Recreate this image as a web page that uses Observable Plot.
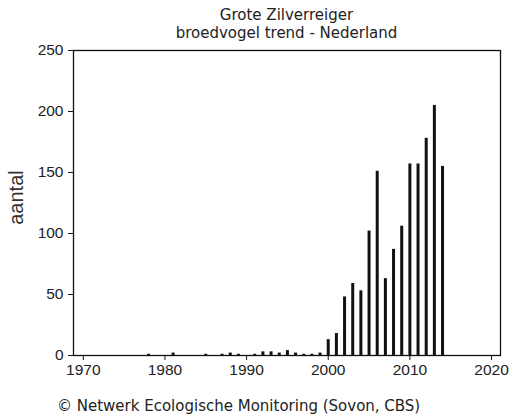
<!DOCTYPE html>
<html>
<head>
<meta charset="utf-8">
<script src="https://cdn.jsdelivr.net/npm/d3@7"></script>
<script src="https://cdn.jsdelivr.net/npm/@observablehq/plot@0.6"></script>
<style>
  body { margin: 0; background: #fff; width: 511px; height: 417px; overflow: hidden; }
  #title { box-sizing: border-box; width: 511px; height: 42px; padding: 6px 11px 0 73px; text-align: center;
    font-family: "DejaVu Sans", sans-serif; font-size: 15px; line-height: 18px; color: #222; }
  #caption { box-sizing: border-box; width: 511px; height: 33px; padding: 13px 0 0 57px;
    font-family: "DejaVu Sans", sans-serif; font-size: 15px; line-height: 18px; color: #222; white-space: nowrap; }
  svg { display: block; }
</style>
</head>
<body>
<div id="title">Grote Zilverreiger<br>broedvogel trend - Nederland</div>
<div id="chart"></div>
<div id="caption">© Netwerk Ecologische Monitoring (Sovon, CBS)</div>
<script>
const years  = [1978, 1981, 1985, 1987, 1988, 1989, 1991, 1992, 1993, 1994, 1995, 1996, 1997, 1998, 1999,
                2000, 2001, 2002, 2003, 2004, 2005, 2006, 2007, 2008, 2009, 2010, 2011, 2012, 2013, 2014];
const counts = [1, 2, 1, 1, 2, 1, 1, 3, 3, 2, 4, 2, 1, 1, 2,
                13, 18, 48, 59, 53, 102, 151, 63, 87, 106, 157, 157, 178, 205, 155];
const xTicks = [1970, 1980, 1990, 2000, 2010, 2020];
const yTicks = [0, 50, 100, 150, 200, 250];
const xDomain = [1968.8, 2021.1];
const yDomain = [0, 250];
const yLabel = "aantal";

const data = years.map((y, i) => ({year: y, count: counts[i]}));

const W = 511, H = 342, mt = 8, mb = 29, ml = 73, mr = 11;
const tickFont = "Liberation Sans, Arial, sans-serif";

const chart = Plot.plot({
  width: W, height: H,
  marginTop: mt, marginBottom: mb, marginLeft: ml, marginRight: mr,
  style: {background: "#fff", color: "#222", fontFamily: tickFont},
  x: {domain: xDomain},
  y: {domain: yDomain},
  marks: [
    Plot.ruleX(data, {x: "year", y: "count", stroke: "#111", strokeWidth: 3}),
    Plot.frame({stroke: "#111", strokeWidth: 1.3}),
    Plot.axisX({ticks: xTicks, tickFormat: d => String(d), tickSize: 5, tickPadding: 3,
                fontSize: 15.5, label: null, stroke: "#111"}),
    Plot.axisY({ticks: yTicks, tickSize: 5, tickPadding: 5, fontSize: 15.5, label: null, stroke: "#111"})
  ]
});

d3.select(chart).append("text")
  .attr("transform", `translate(23, ${197.5 - 42}) rotate(-90)`)
  .attr("text-anchor", "middle")
  .attr("font-family", tickFont)
  .attr("font-size", 20)
  .attr("fill", "#333")
  .text(yLabel);

document.getElementById("chart").appendChild(chart);
</script>
</body>
</html>
